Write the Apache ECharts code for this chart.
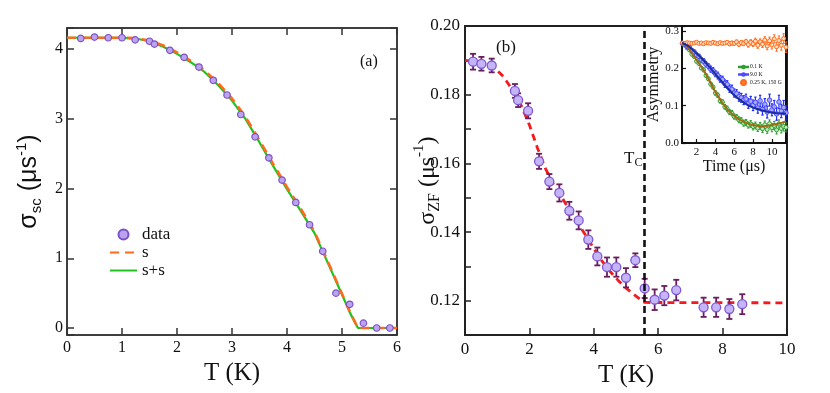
<!DOCTYPE html>
<html lang="en">
<head>
    <meta charset="UTF-8">
    <title>sigma_sc / sigma_ZF</title>
    <style>
        html, body { margin: 0; padding: 0; background: #fff; }
        #main { width: 830px; height: 393px; }
    </style>
</head>
<body>
<div id="main"></div>
<script src="https://cdn.jsdelivr.net/npm/echarts@6/dist/echarts.min.js"></script>
<script>

    // panel (a): superfluid sigma_sc vs T
    var scT = [0.25, 0.5, 0.75, 1.0, 1.24, 1.5, 1.59, 1.87, 2.13, 2.40, 2.66, 2.91, 3.16, 3.42, 3.67, 3.91, 4.16, 4.41, 4.65, 4.89, 5.14, 5.39, 5.63, 5.87];
    var scVal = [4.15, 4.17, 4.16, 4.16, 4.13, 4.11, 4.07, 3.98, 3.88, 3.74, 3.55, 3.34, 3.06, 2.74, 2.44, 2.12, 1.80, 1.48, 1.10, 0.50, 0.34, 0.07, 0.0, 0.0];

    var fitT = [0, 0.25, 0.5, 0.75, 1.0, 1.25, 1.5, 1.75, 2.0, 2.25, 2.5, 2.75, 3.0, 3.25, 3.5, 3.75, 4.0, 4.25, 4.5, 4.75, 5.0, 5.15, 5.29, 5.5, 5.75, 6.0];
    var fitS = [4.16, 4.16, 4.16, 4.16, 4.16, 4.155, 4.12, 4.05, 3.95, 3.83, 3.69, 3.51, 3.29, 3.02, 2.69, 2.35, 2.02, 1.71, 1.38, 0.94, 0.49, 0.22, 0, 0, 0, 0];
    var fitSS = [4.16, 4.16, 4.16, 4.16, 4.158, 4.15, 4.11, 4.03, 3.93, 3.81, 3.67, 3.48, 3.26, 2.99, 2.66, 2.32, 1.99, 1.68, 1.36, 0.92, 0.48, 0.21, 0, 0, 0, 0];

    // panel (b): zero field relaxation
    var zfT = [0.25, 0.51, 0.83, 1.55, 1.65, 1.96, 2.30, 2.62, 2.93, 3.24, 3.53, 3.83, 4.11, 4.41, 4.70, 5.00, 5.29, 5.58, 5.89, 6.19, 6.56, 7.41, 7.80, 8.21, 8.61];
    var zfVal = [0.1896, 0.1890, 0.1885, 0.1811, 0.1784, 0.1753, 0.1606, 0.1547, 0.1514, 0.1462, 0.1434, 0.1378, 0.1329, 0.1298, 0.1298, 0.1267, 0.1318, 0.1236, 0.1203, 0.1215, 0.1231, 0.1181, 0.1181, 0.1176, 0.1190];
    var zfErr = [0.0023, 0.0020, 0.0020, 0.0020, 0.0020, 0.0022, 0.0022, 0.0022, 0.0025, 0.0026, 0.0026, 0.0027, 0.0026, 0.0028, 0.0028, 0.0028, 0.0020, 0.0028, 0.0030, 0.0028, 0.0030, 0.0028, 0.0028, 0.0029, 0.0029];

    var zfFitT = [0, 0.5, 0.9, 1.2, 1.5, 1.75, 2.0, 2.25, 2.5, 2.75, 3.0, 3.25, 3.5, 3.75, 4.0, 4.25, 4.5, 4.75, 5.0, 5.25, 5.5, 5.57, 10];
    var zfFit = [0.1900, 0.1895, 0.1880, 0.1852, 0.1810, 0.1768, 0.1712, 0.1645, 0.1585, 0.1538, 0.1502, 0.1464, 0.1428, 0.1390, 0.1352, 0.1316, 0.1286, 0.1260, 0.1237, 0.1218, 0.1200, 0.1195, 0.1194];
    var tcT = 5.57;

    // inset: asymmetry vs time
    var time = [0.5, 0.75, 1.0, 1.25, 1.5, 1.75, 2.0, 2.25, 2.5, 2.75, 3.0, 3.25, 3.5, 3.75, 4.0, 4.25, 4.5, 4.75, 5.0, 5.25, 5.5, 5.75, 6.0, 6.25, 6.5, 6.75, 7.0, 7.25, 7.5, 7.75, 8.0, 8.25, 8.5, 8.75, 9.0, 9.25, 9.5, 9.75, 10.0, 10.25, 10.5, 10.75, 11.0, 11.25, 11.5];
    var asyLow = [0.266, 0.262, 0.255, 0.249, 0.238, 0.232, 0.219, 0.213, 0.201, 0.196, 0.181, 0.172, 0.158, 0.150, 0.134, 0.128, 0.113, 0.110, 0.097, 0.092, 0.083, 0.080, 0.071, 0.069, 0.062, 0.060, 0.053, 0.055, 0.048, 0.051, 0.044, 0.047, 0.040, 0.046, 0.038, 0.049, 0.036, 0.052, 0.041, 0.047, 0.035, 0.051, 0.039, 0.044, 0.042];
    var errLow = [0.003, 0.003, 0.003, 0.003, 0.004, 0.004, 0.004, 0.004, 0.004, 0.005, 0.005, 0.005, 0.005, 0.005, 0.006, 0.006, 0.006, 0.006, 0.006, 0.007, 0.007, 0.007, 0.007, 0.007, 0.008, 0.008, 0.008, 0.008, 0.008, 0.009, 0.009, 0.009, 0.009, 0.009, 0.010, 0.010, 0.010, 0.010, 0.011, 0.011, 0.011, 0.011, 0.012, 0.012, 0.012];
    var asyHigh = [0.267, 0.265, 0.259, 0.256, 0.248, 0.244, 0.236, 0.232, 0.223, 0.219, 0.211, 0.206, 0.198, 0.194, 0.186, 0.181, 0.172, 0.170, 0.159, 0.157, 0.146, 0.144, 0.134, 0.132, 0.124, 0.121, 0.115, 0.118, 0.106, 0.112, 0.101, 0.109, 0.094, 0.113, 0.090, 0.104, 0.083, 0.115, 0.089, 0.097, 0.078, 0.110, 0.086, 0.095, 0.081];
    var errHigh = [0.004, 0.004, 0.004, 0.005, 0.005, 0.005, 0.006, 0.006, 0.006, 0.007, 0.007, 0.007, 0.008, 0.008, 0.008, 0.009, 0.009, 0.009, 0.010, 0.010, 0.010, 0.011, 0.011, 0.011, 0.012, 0.012, 0.012, 0.013, 0.013, 0.013, 0.014, 0.014, 0.014, 0.015, 0.015, 0.015, 0.016, 0.016, 0.016, 0.017, 0.017, 0.018, 0.018, 0.019, 0.019];
    var asyField = [0.268, 0.267, 0.269, 0.268, 0.267, 0.268, 0.270, 0.267, 0.268, 0.266, 0.269, 0.268, 0.267, 0.270, 0.268, 0.266, 0.269, 0.267, 0.268, 0.270, 0.266, 0.268, 0.267, 0.271, 0.265, 0.269, 0.267, 0.272, 0.264, 0.270, 0.266, 0.273, 0.262, 0.271, 0.265, 0.276, 0.260, 0.274, 0.263, 0.279, 0.258, 0.275, 0.262, 0.280, 0.257];
    var errField = [0.002, 0.002, 0.002, 0.002, 0.002, 0.002, 0.002, 0.002, 0.003, 0.003, 0.003, 0.003, 0.003, 0.003, 0.003, 0.004, 0.004, 0.004, 0.004, 0.004, 0.005, 0.005, 0.005, 0.005, 0.006, 0.006, 0.006, 0.006, 0.007, 0.007, 0.007, 0.008, 0.008, 0.008, 0.009, 0.009, 0.010, 0.010, 0.011, 0.011, 0.012, 0.012, 0.013, 0.013, 0.014];

    var fitTime = [0.45, 1, 1.5, 2, 2.5, 3, 3.5, 4, 4.5, 5, 5.5, 6, 6.5, 7, 7.5, 8, 8.5, 9, 9.5, 10, 10.5, 11, 11.5];
    var fitLow = [0.268, 0.258, 0.241, 0.222, 0.205, 0.184, 0.161, 0.137, 0.117, 0.099, 0.084, 0.073, 0.064, 0.057, 0.052, 0.048, 0.046, 0.045, 0.046, 0.048, 0.051, 0.054, 0.058];
    var fitHigh = [0.268, 0.262, 0.252, 0.240, 0.228, 0.214, 0.200, 0.185, 0.170, 0.155, 0.142, 0.128, 0.118, 0.109, 0.101, 0.095, 0.091, 0.087, 0.084, 0.082, 0.080, 0.079, 0.079];

    var serif = 'Liberation Serif';
    var sans = 'Liberation Sans';

    var pairs = function (xs, ys) {
        return xs.map(function (x, i) { return [x, ys[i]]; });
    };

    var errorBars = function (xi, yi, xs, ys, errs, color, cap, lw, z) {
        return {
            type: 'custom',
            xAxisIndex: xi,
            yAxisIndex: yi,
            silent: true,
            z: z,
            encode: {x: 0, y: [1, 2]},
            data: xs.map(function (x, i) { return [x, ys[i] - errs[i], ys[i] + errs[i]]; }),
            renderItem: function (params, api) {
                var lo = api.coord([api.value(0), api.value(1)]);
                var hi = api.coord([api.value(0), api.value(2)]);
                var st = {stroke: color, lineWidth: lw};
                return {
                    type: 'group',
                    children: [
                        {type: 'line', shape: {x1: lo[0], y1: lo[1], x2: hi[0], y2: hi[1]}, style: st},
                        {type: 'line', shape: {x1: lo[0] - cap, y1: lo[1], x2: lo[0] + cap, y2: lo[1]}, style: st},
                        {type: 'line', shape: {x1: hi[0] - cap, y1: hi[1], x2: hi[0] + cap, y2: hi[1]}, style: st}
                    ]
                };
            }
        };
    };

    var isMult = function (v, step) {
        var r = v / step;
        return Math.abs(r - Math.round(r)) < 1e-6;
    };

    var lineIcon = 'path://M0,4.5h7v1h-7z M13,4.5h7v1h-7z M10,2a3,3 0 1,0 0.01,0z';
    var noSymbol = {color: 'transparent', borderColor: 'transparent', borderWidth: 0};

    var chart = echarts.init(document.getElementById('main'));

    var option = {
        animation: false,
        backgroundColor: '#fff',
        grid: [
            {left: 67, top: 28, width: 330, height: 307, show: true, borderColor: '#333', borderWidth: 1.5, backgroundColor: 'transparent'},
            {left: 465, top: 26, width: 322, height: 311, show: true, borderColor: '#222', borderWidth: 2, backgroundColor: 'transparent'},
            {left: 682, top: 26, width: 104, height: 117, show: true, borderColor: '#111', borderWidth: 2, backgroundColor: '#fff'}
        ],
        xAxis: [
            {
                gridIndex: 0, type: 'value', min: 0, max: 6, interval: 1,
                name: 'T (K)', nameLocation: 'middle', nameGap: 24,
                nameTextStyle: {fontFamily: serif, fontSize: 25, color: '#111'},
                axisLine: {onZero: false, lineStyle: {color: '#333', width: 1.5}},
                axisTick: {inside: true, length: 7, lineStyle: {color: '#333', width: 1.5}},
                axisLabel: {fontFamily: serif, fontSize: 16, color: '#111', margin: 5},
                splitLine: {show: false}
            },
            {
                gridIndex: 0, type: 'value', position: 'top', min: 0, max: 6, interval: 1,
                axisLine: {onZero: false, lineStyle: {color: '#333', width: 1.5}},
                axisTick: {inside: true, length: 7, lineStyle: {color: '#333', width: 1.5}},
                axisLabel: {show: false}, splitLine: {show: false}
            },
            {
                gridIndex: 1, type: 'value', min: 0, max: 10, interval: 2,
                name: 'T (K)', nameLocation: 'middle', nameGap: 22,
                nameTextStyle: {fontFamily: serif, fontSize: 25, color: '#111'},
                axisLine: {onZero: false, lineStyle: {color: '#222', width: 2}},
                axisTick: {inside: true, length: 7, lineStyle: {color: '#222', width: 1.5}},
                axisLabel: {fontFamily: serif, fontSize: 17, color: '#111', margin: 6},
                splitLine: {show: false}
            },
            {
                gridIndex: 2, type: 'value', min: 0.45, max: 11.5,
                name: 'Time (μs)', nameLocation: 'middle', nameGap: 13,
                nameTextStyle: {fontFamily: serif, fontSize: 16, color: '#111'},
                axisLine: {onZero: false, lineStyle: {color: '#111', width: 2}},
                axisTick: {inside: true, length: 4, lineStyle: {color: '#111', width: 1.2}},
                axisLabel: {
                    fontFamily: serif, fontSize: 11, color: '#111', margin: 4,
                    formatter: function (v) { return (isMult(v, 2) && v > 1 && v < 11) ? String(Math.round(v)) : ''; }
                },
                splitLine: {show: false}
            }
        ],
        yAxis: [
            {
                gridIndex: 0, type: 'value', min: -0.1, max: 4.3,
                name: 'σ{sub|sc} (μs{sup|-1})', nameLocation: 'middle', nameGap: 22,
                nameTextStyle: {
                    fontFamily: sans, fontSize: 25, color: '#111',
                    rich: {
                        sub: {fontFamily: sans, fontSize: 15, color: '#111', padding: [14, 0, 0, 0]},
                        sup: {fontFamily: sans, fontSize: 15, color: '#111', padding: [0, 0, 16, 0]}
                    }
                },
                axisLine: {onZero: false, lineStyle: {color: '#333', width: 1.5}},
                axisTick: {inside: true, length: 7, lineStyle: {color: '#333', width: 1.5}},
                axisLabel: {
                    fontFamily: serif, fontSize: 16, color: '#111', margin: 4,
                    formatter: function (v) { return isMult(v, 1) && v >= 0 ? String(Math.round(v)) : ''; }
                },
                splitLine: {show: false}
            },
            {
                gridIndex: 0, type: 'value', position: 'right', min: -0.1, max: 4.3,
                axisLine: {onZero: false, lineStyle: {color: '#333', width: 1.5}},
                axisTick: {inside: true, length: 7, lineStyle: {color: '#333', width: 1.5}},
                axisLabel: {show: false}, splitLine: {show: false}
            },
            {
                gridIndex: 1, type: 'value', min: 0.11, max: 0.20, interval: 0.01,
                name: 'σ{sub|ZF} (μs{sup|-1})', nameLocation: 'middle', nameGap: 22,
                nameMoveOverlap: false,
                nameTextStyle: {
                    fontFamily: serif, fontSize: 24, color: '#111',
                    rich: {
                        sub: {fontFamily: serif, fontSize: 16, color: '#111', padding: [14, 0, 0, 0]},
                        sup: {fontFamily: serif, fontSize: 15, color: '#111', padding: [0, 0, 16, 0]}
                    }
                },
                axisLine: {onZero: false, lineStyle: {color: '#222', width: 2}},
                axisTick: {inside: true, length: 6, lineStyle: {color: '#222', width: 1.5}},
                axisLabel: {
                    fontFamily: serif, fontSize: 17, color: '#111', margin: 5,
                    formatter: function (v) { return isMult(v, 0.02) ? v.toFixed(2) : ''; }
                },
                splitLine: {show: false}
            },
            {
                gridIndex: 2, type: 'value', min: 0, max: 0.3137, interval: 0.1,
                name: 'Asymmetry', nameLocation: 'middle', nameGap: 17,
                nameTextStyle: {fontFamily: serif, fontSize: 16, color: '#111'},
                axisLine: {onZero: false, lineStyle: {color: '#111', width: 2}},
                axisTick: {inside: true, length: 4, lineStyle: {color: '#111', width: 1.2}},
                axisLabel: {
                    fontFamily: serif, fontSize: 11, color: '#111', margin: 3,
                    formatter: function (v) { return isMult(v, 0.1) ? v.toFixed(1) : ''; }
                },
                splitLine: {show: false}
            }
        ],
        legend: [
            {
                data: [
                    {name: 'data'},
                    {name: 's', itemStyle: noSymbol},
                    {name: 's+s', itemStyle: noSymbol}
                ],
                orient: 'vertical', left: 104, top: 221,
                itemWidth: 27, itemHeight: 10, itemGap: 1,
                textStyle: {fontFamily: serif, fontSize: 17, lineHeight: 17, color: '#111'}
            },
            {
                data: [
                    {name: '0.1 K', icon: lineIcon, itemStyle: {color: '#2ea82e'}},
                    {name: '9.0 K', icon: lineIcon, itemStyle: {color: '#5a5aff'}},
                    {name: '0.25 K, 150 G', icon: 'path://M10,2a3,3 0 1,0 0.01,0z', itemStyle: {color: '#ff7a2a'}}
                ],
                orient: 'vertical', left: 733, top: 59,
                itemWidth: 9, itemHeight: 5, itemGap: 1.5,
                textStyle: {fontFamily: serif, fontSize: 5.6, lineHeight: 6, color: '#111', padding: [0, 0, 0, -3]}
            }
        ],
        graphic: [
            {type: 'text', left: 360, top: 54, style: {text: '(a)', font: '16px "Liberation Serif"', fill: '#111'}},
            {type: 'text', left: 496, top: 39, style: {text: '(b)', font: '17px "Liberation Serif"', fill: '#111'}},
            {
                type: 'text', left: 624, top: 150,
                style: {
                    text: 'T{c|C}', font: '17px "Liberation Serif"', fill: '#111',
                    rich: {c: {fontFamily: serif, fontSize: 12, fill: '#111', padding: [8, 0, 0, 0]}}
                }
            }
        ],
        series: [
            // panel (a)
            {
                name: 's', type: 'line', xAxisIndex: 0, yAxisIndex: 0, z: 3,
                data: pairs(fitT, fitS), showSymbol: false, symbol: 'none',
                lineStyle: {color: '#ff6a1e', width: 2.6, type: [9, 6]}, itemStyle: {color: '#ff6a1e'}
            },
            {
                name: 's+s', type: 'line', xAxisIndex: 0, yAxisIndex: 0, z: 2,
                data: pairs(fitT, fitSS), showSymbol: false, symbol: 'none',
                lineStyle: {color: '#22c21e', width: 2.2}, itemStyle: {color: '#22c21e'}
            },
            {
                name: 'data', type: 'scatter', xAxisIndex: 0, yAxisIndex: 0, z: 4,
                data: pairs(scT, scVal), symbolSize: 6.5,
                itemStyle: {color: '#bba4ec', borderColor: '#7c4fcc', borderWidth: 1.2, opacity: 1}
            },
            // panel (b)
            {
                name: 'fitZF', type: 'line', xAxisIndex: 2, yAxisIndex: 2, z: 2,
                data: pairs(zfFitT, zfFit), showSymbol: false, symbol: 'none',
                lineStyle: {color: '#f5191e', width: 2.8, type: [7, 5]},
                markLine: {
                    silent: true, symbol: 'none', label: {show: false},
                    lineStyle: {color: '#111', width: 2.6, type: [7, 4]},
                    data: [{xAxis: tcT}]
                }
            },
            errorBars(2, 2, zfT, zfVal, zfErr, '#6a1d5c', 3, 1.8, 3),
            {
                name: 'zf', type: 'scatter', xAxisIndex: 2, yAxisIndex: 2, z: 4,
                data: pairs(zfT, zfVal), symbolSize: 9,
                itemStyle: {color: '#c5b4f6', borderColor: '#7c57d8', borderWidth: 1.3, opacity: 1}
            },
            // inset
            errorBars(3, 3, time, asyLow, errLow, '#2e9e2e', 1.2, 1, 5),
            errorBars(3, 3, time, asyHigh, errHigh, '#1c2cff', 1.2, 1.2, 5),
            errorBars(3, 3, time, asyField, errField, '#ff6a1a', 1.2, 1, 5),
            {
                name: '0.1 K', type: 'scatter', xAxisIndex: 3, yAxisIndex: 3, z: 6,
                data: pairs(time, asyLow), symbolSize: 4,
                itemStyle: {color: '#bfeabf', borderColor: '#2e9e2e', borderWidth: 1, opacity: 1}
            },
            {
                name: '9.0 K', type: 'scatter', xAxisIndex: 3, yAxisIndex: 3, z: 6,
                data: pairs(time, asyHigh), symbolSize: 4.5,
                itemStyle: {color: '#a9a9ff', borderColor: '#4a4aff', borderWidth: 1, opacity: 1}
            },
            {
                name: '0.25 K, 150 G', type: 'scatter', xAxisIndex: 3, yAxisIndex: 3, z: 6,
                data: pairs(time, asyField), symbolSize: 4,
                itemStyle: {color: '#ffe0c0', borderColor: '#ff6a1a', borderWidth: 1, opacity: 1}
            },
            {
                name: 'fitLow', type: 'line', xAxisIndex: 3, yAxisIndex: 3, z: 7,
                data: pairs(fitTime, fitLow), showSymbol: false, symbol: 'none', smooth: true,
                lineStyle: {color: '#a26b12', width: 2}
            },
            {
                name: 'fitHigh', type: 'line', xAxisIndex: 3, yAxisIndex: 3, z: 7,
                data: pairs(fitTime, fitHigh), showSymbol: false, symbol: 'none', smooth: true,
                lineStyle: {color: '#1b2d9c', width: 2}
            }
        ]
    };

    chart.setOption(option);

</script>
</body>
</html>
